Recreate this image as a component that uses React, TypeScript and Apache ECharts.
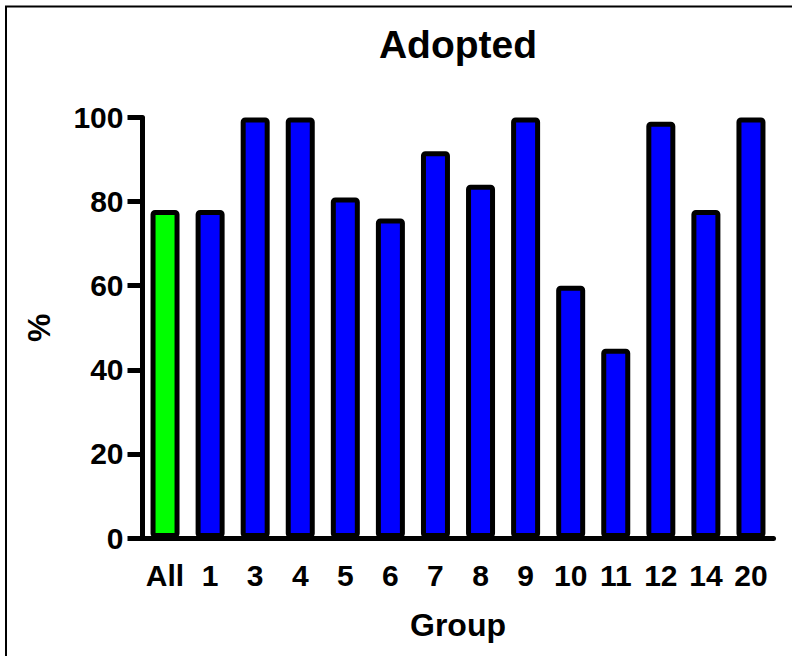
import React, { useEffect, useRef } from "react";
import * as echarts from "echarts";

const categories = ["All", "1", "3", "4", "5", "6", "7", "8", "9", "10", "11", "12", "14", "20"];
const values = [78, 78, 100, 100, 81, 76, 92, 84, 100, 60, 45, 99, 78, 100];
const highlightCategory = "All";
const titleText = "Adopted";
const yAxisName = "%";
const xAxisName = "Group";

const FONT = "'Liberation Sans', Arial, sans-serif";

export default function App() {
  const ref = useRef<HTMLDivElement>(null);
  useEffect(() => {
    if (!ref.current) return;
    const chart = echarts.init(ref.current, undefined, { renderer: "svg" });
    const data = values.map((v, i) => ({
      value: v,
      itemStyle: {
        color: categories[i] === highlightCategory ? "#00ff00" : "#0000ff",
      },
    }));
    chart.setOption({
      animation: false,
      backgroundColor: "#ffffff",
      graphic: [
        {
          type: "rect",
          shape: { x: 6, y: 6.5, width: 820, height: 720 },
          style: { fill: "none", stroke: "#000", lineWidth: 2 },
          silent: true,
        },
        {
          type: "text",
          x: 458,
          y: 25,
          style: {
            text: titleText,
            fontFamily: FONT,
            fontWeight: "bold",
            fontSize: 39,
            fill: "#000",
            textAlign: "center",
            textVerticalAlign: "top",
          },
        },
      ],
      grid: { left: 142.5, right: 18.5, top: 117.5, bottom: 118, containLabel: false },
      xAxis: {
        type: "category",
        data: categories,
        name: xAxisName,
        nameLocation: "middle",
        nameGap: 71,
        nameTextStyle: { fontFamily: FONT, fontWeight: "bold", fontSize: 32, color: "#000" },
        axisLine: { lineStyle: { color: "#000", width: 5 } },
        axisTick: { alignWithLabel: true, length: 16, lineStyle: { color: "#000", width: 5 } },
        axisLabel: { margin: 22, fontFamily: FONT, fontWeight: "bold", fontSize: 30, color: "#000", interval: 0 },
      },
      yAxis: {
        type: "value",
        min: 0,
        max: 100,
        interval: 20,
        name: yAxisName,
        nameLocation: "middle",
        nameGap: 88,
        nameRotate: 90,
        nameTextStyle: { fontFamily: FONT, fontWeight: "bold", fontSize: 32, color: "#000" },
        axisLine: { show: true, lineStyle: { color: "#000", width: 5 } },
        axisTick: { show: true, length: 15, lineStyle: { color: "#000", width: 5 } },
        axisLabel: { margin: 19, fontFamily: FONT, fontWeight: "bold", fontSize: 30, color: "#000" },
        splitLine: { show: false },
      },
      series: [
        {
          type: "bar",
          data,
          barWidth: 29,
          itemStyle: { borderColor: "#000", borderWidth: 5, borderRadius: 2 },
        },
      ],
    });
    return () => chart.dispose();
  }, []);
  return <div ref={ref} style={{ width: 792, height: 656, position: "absolute", left: 0, top: 0 }} />;
}
